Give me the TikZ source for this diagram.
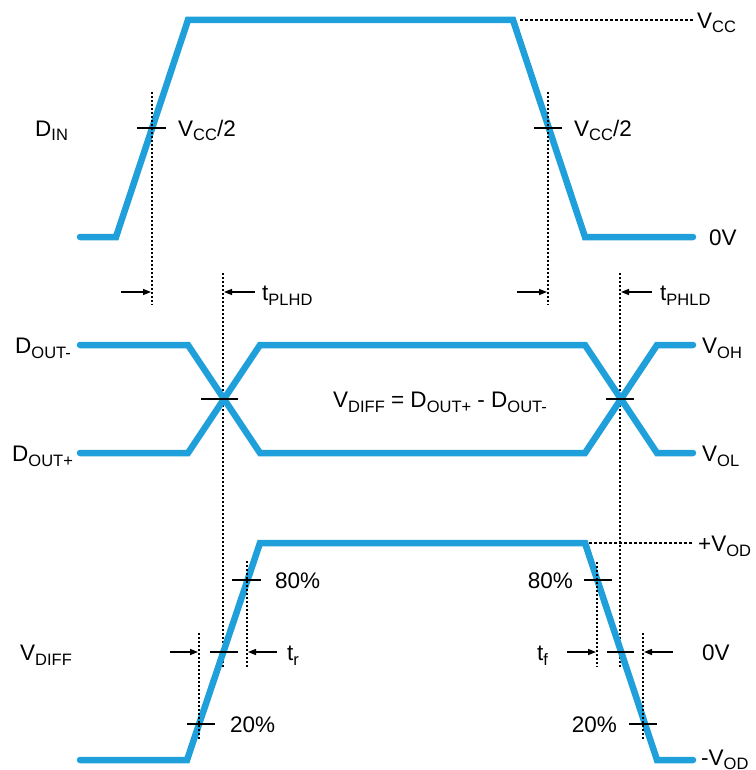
\documentclass[tikz,border=0pt]{standalone}
\usepackage{fontspec}
\setmainfont{Liberation Sans}
\usetikzlibrary{arrows.meta}
\definecolor{wavec}{RGB}{31,160,219}
\newcommand{\lsub}[1]{\raisebox{-4.5pt}{\fontsize{16.5}{17}\selectfont #1}}
\begin{document}
\begin{tikzpicture}[x=1pt,y=-1pt,
  wave/.style={draw=wavec,line width=6.5pt,line cap=round},
  vdot/.style={draw=black,line width=1.4pt,dash pattern=on 2pt off 2pt},
  hdash/.style={draw=black,line width=1.3pt,dash pattern=on 3pt off 2pt},
  tick/.style={draw=black,line width=2pt},
  darrow/.style={draw=black,line width=1.4pt,-{Triangle[length=8pt,width=6pt]}},
  lbl/.style={inner sep=0pt,font=\fontsize{22.5}{27}\selectfont}]
\useasboundingbox (0,0) rectangle (755,770);

% ---------- D_IN waveform ----------
\draw[wave] (80,237) -- (116,237) -- (188,20) -- (513,20) -- (585,237) -- (693,237);
\draw[hdash] (520,20) -- (693,20);
\draw[vdot] (152,92) -- (152,305);
\draw[vdot] (548,92) -- (548,305);
\draw[tick] (137,128) -- (166,128);
\draw[tick] (534,128) -- (562,128);

\node[lbl,anchor=base west] (din) at (35,136.5) {D\lsub{IN}};
\node[lbl,anchor=base west] (vcchalf1) at (178,136.5) {V\lsub{CC}/2};
\node[lbl,anchor=base west] (vcchalf2) at (574,136.5) {V\lsub{CC}/2};
\node[lbl,anchor=base west] (vcc) at (697,28.5) {V\lsub{CC}};
\node[lbl,anchor=base west] (zero1) at (709,245.5) {0V};

% ---------- propagation delay arrows ----------
\draw[darrow] (121,292) -- (151,292);
\draw[darrow] (255,292) -- (224,292);
\draw[darrow] (517,292) -- (547,292);
\draw[darrow] (652,292) -- (621,292);
\node[lbl,anchor=base west] (tplhd) at (262,300.5) {t\lsub{PLHD}};
\node[lbl,anchor=base west] (tphld) at (660,300.5) {t\lsub{PHLD}};
\draw[vdot] (223,273) -- (223,667);
\draw[vdot] (620,273) -- (620,667);

% ---------- D_OUT waveforms ----------
\draw[wave] (80,345) -- (188,345) -- (260,453) -- (585,453) -- (657,345) -- (693,345);
\draw[wave] (80,453) -- (188,453) -- (260,345) -- (585,345) -- (657,453) -- (693,453);
\draw[tick] (201,399) -- (238,399);
\draw[tick] (606,399) -- (634,399);

\node[lbl,anchor=base west] (doutm) at (15,353.5) {D\lsub{OUT-}};
\node[lbl,anchor=base west] (doutp) at (12,461.5) {D\lsub{OUT+}};
\node[lbl,anchor=base west] (voh) at (702,353.5) {V\lsub{OH}};
\node[lbl,anchor=base west] (vol) at (702,461.5) {V\lsub{OL}};
\node[lbl,anchor=base west] (vdiffeq) at (333,407.5) {V\lsub{DIFF} = D\lsub{OUT+} - D\lsub{OUT-}};

% ---------- V_DIFF waveform ----------
\draw[wave] (80,760) -- (187,760) -- (260,543) -- (585,543) -- (657,760) -- (693,760);
\draw[hdash] (589,543) -- (693,543);

\draw[vdot] (247,561) -- (247,667);
\draw[vdot] (199,633) -- (199,739);
\draw[vdot] (597,562) -- (597,667);
\draw[vdot] (643,633) -- (643,739);

\draw[tick] (232,580) -- (261,580);
\draw[tick] (187,724) -- (215,724);
\draw[tick] (210,652) -- (238,652);
\draw[tick] (584,580) -- (612,580);
\draw[tick] (607,652) -- (634,652);
\draw[tick] (629,724) -- (657,724);

\draw[darrow] (170,652) -- (198,652);
\draw[darrow] (277,652) -- (248,652);
\draw[darrow] (567,652) -- (596,652);
\draw[darrow] (673,652) -- (644,652);

\node[lbl,anchor=base west] (vdiff) at (20,660.5) {V\lsub{DIFF}};
\node[lbl,anchor=base west] (p80l) at (275,588.5) {80\%};
\node[lbl,anchor=base west] (p20l) at (230,732.5) {20\%};
\node[lbl,anchor=base west] (tr) at (287,660.5) {t\lsub{r}};
\node[lbl,anchor=base east] (p80r) at (573,588.5) {80\%};
\node[lbl,anchor=base east] (p20r) at (617,732.5) {20\%};
\node[lbl,anchor=base west] (tf) at (537,660.5) {t\lsub{f}};
\node[lbl,anchor=base west] (zero2) at (702,660.5) {0V};
\node[lbl,anchor=base west] (pvod) at (698,551.5) {+V\lsub{OD}};
\node[lbl,anchor=base west] (mvod) at (701,765) {-V\lsub{OD}};
\end{tikzpicture}
\end{document}
